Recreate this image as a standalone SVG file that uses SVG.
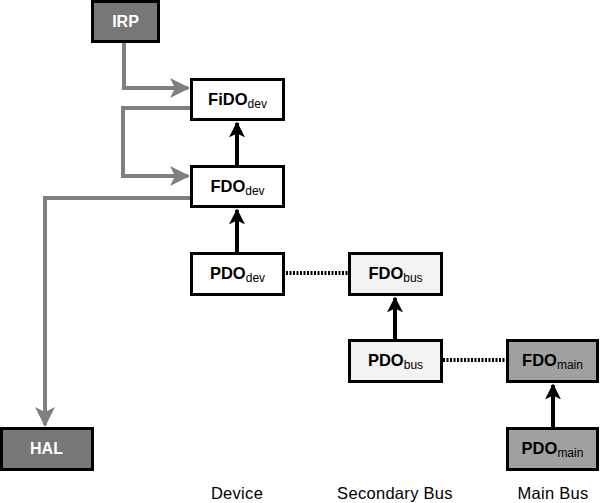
<svg xmlns="http://www.w3.org/2000/svg" width="601" height="503" viewBox="0 0 601 503">
<defs>
<style>
.box{stroke:#000;stroke-width:3}
.dark{fill:#777}
.white{fill:#fff}
.light{fill:#f2f2f2}
.mid{fill:#a0a0a0}
.t{font-family:"Liberation Sans",Arial,sans-serif;font-weight:bold;font-size:16.5px;text-anchor:middle;fill:#000}
.tw{fill:#fff;font-size:16px}
.sub{font-size:12px;font-weight:normal}
.lab{font-family:"Liberation Sans",Arial,sans-serif;font-size:16.5px;letter-spacing:0.3px;text-anchor:middle;fill:#000}
.g{fill:none;stroke:#808080;stroke-width:4}
.b{fill:none;stroke:#000;stroke-width:4}
.d{fill:none;stroke:#000;stroke-width:4;stroke-dasharray:2 1.5}
</style>
<marker id="ag" viewBox="0 0 10 10" refX="9" refY="5" markerWidth="5" markerHeight="5" orient="auto" markerUnits="strokeWidth"><path d="M0,0 L10,5 L0,10 L2.5,5 z" fill="#808080"/></marker>
<marker id="ab" viewBox="0 0 10 10" refX="9" refY="5" markerWidth="4" markerHeight="4" orient="auto" markerUnits="strokeWidth"><path d="M0,0 L10,5 L0,10 L2.5,5 z" fill="#000"/></marker>
</defs>
<g id="connectors">
<path class="g" d="M124,42 V88 H188" marker-end="url(#ag)"/>
<path class="g" d="M191,108 H123 V176 H188" marker-end="url(#ag)"/>
<path class="g" d="M191,198 H45 V425" marker-end="url(#ag)"/>
<path class="b" d="M237,166 V123" marker-end="url(#ab)"/>
<path class="b" d="M237,253 V210" marker-end="url(#ab)"/>
<path class="b" d="M395,340 V298" marker-end="url(#ab)"/>
<path class="b" d="M553,428 V385" marker-end="url(#ab)"/>
<path class="d" d="M286,273 H348"/>
<path class="d" d="M443,360 H507"/>
</g>
<g id="IRP"><rect class="box dark" x="92.5" y="1.5" width="66" height="40"/><text class="t tw" x="125.5" y="27">IRP</text></g>
<g id="FiDOdev"><rect class="box white" x="191.5" y="79.5" width="92" height="40"/><text class="t" x="237.5" y="105">FiDO<tspan class="sub" dy="3">dev</tspan></text></g>
<g id="FDOdev"><rect class="box white" x="191.5" y="166.5" width="92" height="40"/><text class="t" x="237.5" y="192">FDO<tspan class="sub" dy="3">dev</tspan></text></g>
<g id="PDOdev"><rect class="box white" x="191.5" y="253.5" width="92" height="41"/><text class="t" x="237.5" y="279">PDO<tspan class="sub" dy="3">dev</tspan></text></g>
<g id="FDObus"><rect class="box light" x="349.5" y="253.5" width="92" height="41"/><text class="t" x="395.5" y="279">FDO<tspan class="sub" dy="3">bus</tspan></text></g>
<g id="PDObus"><rect class="box light" x="349.5" y="340.5" width="92" height="41"/><text class="t" x="395.5" y="366">PDO<tspan class="sub" dy="3">bus</tspan></text></g>
<g id="FDOmain"><rect class="box mid" x="507.5" y="340.5" width="90" height="41"/><text class="t" x="552.5" y="366">FDO<tspan class="sub" dy="3">main</tspan></text></g>
<g id="PDOmain"><rect class="box mid" x="507.5" y="428.5" width="90" height="41"/><text class="t" x="552.5" y="454">PDO<tspan class="sub" dy="3">main</tspan></text></g>
<g id="HAL"><rect class="box dark" x="1.5" y="428.5" width="91" height="41"/><text class="t tw" x="46.5" y="454">HAL</text></g>
<g id="labels">
<text class="lab" x="237" y="499">Device</text>
<text class="lab" x="395" y="499">Secondary Bus</text>
<text class="lab" x="553" y="499">Main Bus</text>
</g>
</svg>
